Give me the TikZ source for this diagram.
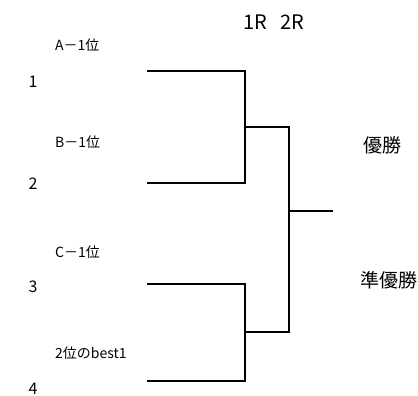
\documentclass[tikz,border=0pt]{standalone}
\usepackage{fontspec}
\newfontfamily\jpfont{Noto Sans CJK JP}
\usetikzlibrary{positioning,calc}

\begin{document}
\begin{tikzpicture}[x=1pt,y=-1pt,
   seed/.style={font=\jpfont\fontsize{16}{16}\selectfont,inner sep=0pt},
   team/.style={font=\jpfont\fontsize{14}{14}\selectfont,anchor=west,inner sep=0pt},
   place/.style={font=\jpfont\fontsize{19}{19}\selectfont,anchor=west,inner sep=0pt},
   round/.style={font=\jpfont\fontsize{20}{20}\selectfont,inner sep=0pt},
   wire/.style={line width=1.4pt},
   node distance=13pt]
	\useasboundingbox (0,0) rectangle (418,396);
	% round headings
	\node[round,anchor=west] (r1) at (243,22) {1R};
	\node[round,right=of r1] (r2) {2R};
	% entries
	\node[team] (tA) at (55,45) {A－1位};
	\node[seed] (n1) at (33,82) {1};
	\node[team] (tB) at (55,142) {B－1位};
	\node[seed] (n2) at (33,184) {2};
	\node[team] (tC) at (55,252) {C－1位};
	\node[seed] (n3) at (33,287) {3};
	\node[team] (tD) at (55,353) {2位のbest1};
	\node[seed] (n4) at (33,389) {4};
	% places
	\node[place] (win) at (363,145) {優勝};
	\node[place] (second) at (360,280) {準優勝};
	% bracket
	\coordinate (s1) at (147,71);
	\coordinate (s2) at (147,183);
	\coordinate (s3) at (147,284);
	\coordinate (s4) at (147,381);
	\coordinate (j1) at (245,127);
	\coordinate (j2) at (245,332);
	\coordinate (f) at (289,211);
	\coordinate (w) at (333,211);
	\draw[wire] (s1) -- (s1 -| j1) -- (s2 -| j1) -- (s2);
	\draw[wire] (s3) -- (s3 -| j2) -- (s4 -| j2) -- (s4);
	\draw[wire] (j1) -- (j1 -| f) -- (j2 -| f) -- (j2);
	\draw[wire] (f) -- (w);
\end{tikzpicture}
\end{document}
